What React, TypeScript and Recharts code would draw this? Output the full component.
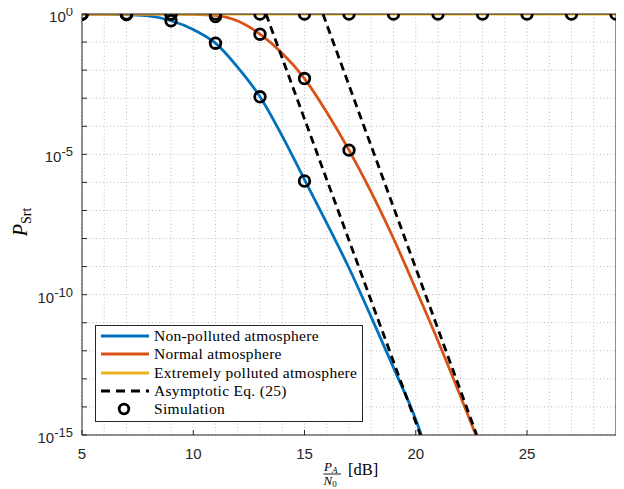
import React from 'react';
import { ComposedChart, Line, XAxis, YAxis, CartesianGrid, Legend, Customized } from 'recharts';

// ---- axis ticks ----
const snrTicks = [5, 6, 7, 8, 9, 10, 11, 12, 13, 14, 15, 16, 17, 18, 19, 20, 21, 22, 23, 24, 25, 26, 27, 28, 29];
const labeledSnr = [5, 10, 15, 20, 25];
const decadeExps = [0, -1, -2, -3, -4, -5, -6, -7, -8, -9, -10, -11, -12, -13, -14, -15];
const labeledExps = [0, -5, -10, -15];

// ---- analytical curves (x in dB, value = log10 P) ----
const nonPollutedX = [5, 6, 7, 8, 9, 10, 11, 12, 13, 14, 15, 16, 17, 18, 19, 20, 20.25];
const nonPollutedLog = [0, 0, -0.02, -0.07, -0.24, -0.55, -1.04, -1.9, -2.95, -4.35, -5.9, -7.45, -9.05, -10.8, -12.6, -14.45, -15];

const normalX = [5, 6, 7, 8, 9, 10, 11, 12, 13, 14, 15, 16, 17, 18, 19, 20, 21, 22, 22.7];
const normalLog = [0, 0, 0, 0, 0, -0.01, -0.05, -0.25, -0.72, -1.4, -2.3, -3.5, -4.85, -6.35, -8.0, -9.8, -11.65, -13.6, -15];

const extremeX = [5, 29];
const extremeLog = [0, 0];

// ---- asymptotic Eq. (25) ----
const asymNonPollutedX = [13.27, 20.21];
const asymNonPollutedLog = [0, -15];
const asymNormalX = [15.83, 22.74];
const asymNormalLog = [0, -15];

// ---- simulation points ----
const simExtremeX = [5, 7, 9, 11, 13, 15, 17, 19, 21, 23, 25, 27, 29];
const simExtremeLog = [0, 0, 0, 0, 0, 0, 0, 0, 0, 0, 0, 0, 0];
const simNonPollutedX = [5, 7, 9, 11, 13, 15];
const simNonPollutedLog = [0, -0.02, -0.24, -1.04, -2.95, -5.95];
const simNormalX = [5, 7, 9, 11, 13, 15, 17];
const simNormalLog = [0, 0, 0, -0.09, -0.72, -2.3, -4.85];

const legendLabels = [
  'Non-polluted atmosphere',
  'Normal atmosphere',
  'Extremely polluted atmosphere',
  'Asymptotic Eq. (25)',
  'Simulation',
];

const BLUE = '#0072BD';
const ORANGE = '#D95319';
const YELLOW = '#EDB120';
const AX = '#262626';
const SANS = '"Liberation Sans", Arial, Helvetica, sans-serif';
const SERIF = '"Liberation Serif", "Times New Roman", serif';

const build = (xs: number[], ls: number[]) => xs.map((x, i) => ({ x, p: Math.pow(10, ls[i]) }));

const nonPolluted = build(nonPollutedX, nonPollutedLog);
const normal = build(normalX, normalLog);
const extreme = build(extremeX, extremeLog);
const asym1 = build(asymNonPollutedX, asymNonPollutedLog);
const asym2 = build(asymNormalX, asymNormalLog);
const simE = build(simExtremeX, simExtremeLog);
const simN = build(simNonPollutedX, simNonPollutedLog);
const simM = build(simNormalX, simNormalLog);

const yTicks = decadeExps.map((e) => Math.pow(10, e));

const LeftTick = (props: any) => {
  const { x, y, payload } = props;
  const e = Math.round(Math.log10(payload.value));
  const lab = labeledExps.includes(e);
  return (
    <g>
      <line x1={x} y1={y} x2={x + 5} y2={y} stroke={AX} strokeWidth={1} />
      {lab && (
        <text x={x - 9} y={y + 8} textAnchor="end" fontFamily={SANS} fontSize={15} fill={AX}>
          10<tspan dy={-6} fontSize={13}>{String(e)}</tspan>
        </text>
      )}
    </g>
  );
};

const RightTick = (props: any) => {
  const { x, y } = props;
  return <line x1={x - 5} y1={y} x2={x} y2={y} stroke={AX} strokeWidth={1} />;
};

const BottomTick = (props: any) => {
  const { x, y, payload } = props;
  const lab = labeledSnr.includes(payload.value);
  if (!lab) return <g />;
  return (
    <g>
      <line x1={x} y1={y} x2={x} y2={y - 5} stroke={AX} strokeWidth={1} />
      <text x={x} y={y + 24} textAnchor="middle" fontFamily={SANS} fontSize={15} fill={AX}>
        {payload.value}
      </text>
    </g>
  );
};

const TopTick = (props: any) => {
  const { x, y, payload } = props;
  if (!labeledSnr.includes(payload.value)) return <g />;
  return <line x1={x} y1={y} x2={x} y2={y + 5} stroke={AX} strokeWidth={1} />;
};

const AxisLabels = () => (
  <g fontFamily={SERIF} fill="#000">
    {/* x label: P_A / N_0 [dB] */}
    <text x={324} y={471} fontSize={13} fontStyle="italic">
      P<tspan dy={2} fontSize={9} fontStyle="italic">A</tspan>
    </text>
    <line x1={323.5} y1={474} x2={341} y2={474} stroke="#000" strokeWidth={0.9} />
    <text x={323.5} y={484.5} fontSize={13} fontStyle="italic">
      N<tspan dy={2} fontSize={9} fontStyle="normal">0</tspan>
    </text>
    <text x={348} y={475} fontSize={16.5}>[dB]</text>
    {/* y label: P_Srt */}
    <text x={27} y={222} transform="rotate(-90, 27, 222)" textAnchor="middle" fontSize={20}>
      <tspan fontStyle="italic">P</tspan>
      <tspan dy={4} fontSize={14}>Srt</tspan>
    </text>
  </g>
);

const LegendBox = () => {
  const rows = [11, 29, 48, 66, 84];
  return (
    <svg width={268} height={97} style={{ display: 'block' }}>
      <rect x={0.5} y={0.5} width={267} height={96} fill="#fff" stroke={AX} strokeWidth={1} />
      <line x1={6} x2={54} y1={rows[0]} y2={rows[0]} stroke={BLUE} strokeWidth={2.8} />
      <line x1={6} x2={54} y1={rows[1]} y2={rows[1]} stroke={ORANGE} strokeWidth={2.8} />
      <line x1={6} x2={54} y1={rows[2]} y2={rows[2]} stroke={YELLOW} strokeWidth={2.8} />
      <line x1={6} x2={54} y1={rows[3]} y2={rows[3]} stroke="#000" strokeWidth={2.8} strokeDasharray="9 6" />
      <circle cx={29} cy={rows[4]} r={4.8} fill="none" stroke="#000" strokeWidth={2.8} />
      {legendLabels.map((t, i) => (
        <text key={t} x={59} y={rows[i] + 5} fontFamily={SERIF} fontSize={15.5} letterSpacing={0.3} fill="#000">
          {t}
        </text>
      ))}
    </svg>
  );
};

const dotStyle = { r: 5.3, fill: 'none', stroke: '#000', strokeWidth: 2.8 };

export default function App() {
  return (
    <div style={{ margin: '-8px 0 0 -8px', width: 624, height: 489 }}>
      <ComposedChart width={624} height={489} margin={{ top: 13, right: 7, bottom: 4, left: 22 }}>
        <CartesianGrid stroke="#bdbdbd" strokeDasharray="1 2.5" strokeWidth={1} />
        <XAxis
          dataKey="x"
          type="number"
          domain={[5, 29]}
          ticks={snrTicks}
          interval={0}
          allowDataOverflow
          height={50}
          tickSize={0}
          tickMargin={0}
          tickLine={false}
          tick={<BottomTick />}
          axisLine={{ stroke: AX, strokeWidth: 1 }}
        />
        <XAxis
          xAxisId="top"
          orientation="top"
          dataKey="x"
          type="number"
          domain={[5, 29]}
          ticks={snrTicks}
          interval={0}
          height={1}
          tickSize={0}
          tickMargin={0}
          tickLine={false}
          tick={<TopTick />}
          axisLine={{ stroke: AX, strokeWidth: 1 }}
        />
        <YAxis
          scale="log"
          type="number"
          domain={[1e-15, 1]}
          ticks={yTicks}
          interval={0}
          allowDataOverflow
          width={60}
          tickSize={0}
          tickMargin={0}
          tickLine={false}
          tick={<LeftTick />}
          axisLine={{ stroke: AX, strokeWidth: 1 }}
        />
        <YAxis
          yAxisId="right"
          orientation="right"
          scale="log"
          type="number"
          domain={[1e-15, 1]}
          ticks={yTicks}
          interval={0}
          width={1}
          tickSize={0}
          tickMargin={0}
          tickLine={false}
          tick={<RightTick />}
          axisLine={{ stroke: AX, strokeWidth: 1 }}
        />
        <Line data={nonPolluted} dataKey="p" type="monotone" stroke={BLUE} strokeWidth={2.8} dot={false} isAnimationActive={false} legendType="none" />
        <Line data={normal} dataKey="p" type="monotone" stroke={ORANGE} strokeWidth={2.8} dot={false} isAnimationActive={false} legendType="none" />
        <Line data={extreme} dataKey="p" type="linear" stroke={YELLOW} strokeWidth={2.8} dot={false} isAnimationActive={false} legendType="none" />
        <Line data={asym1} dataKey="p" type="linear" stroke="#000" strokeWidth={2.8} strokeDasharray="8 5" dot={false} isAnimationActive={false} legendType="none" />
        <Line data={asym2} dataKey="p" type="linear" stroke="#000" strokeWidth={2.8} strokeDasharray="8 5" dot={false} isAnimationActive={false} legendType="none" />
        <Line data={simN} dataKey="p" stroke="none" dot={dotStyle} isAnimationActive={false} legendType="none" />
        <Line data={simM} dataKey="p" stroke="none" dot={dotStyle} isAnimationActive={false} legendType="none" />
        <Line data={simE} dataKey="p" stroke="none" dot={dotStyle} isAnimationActive={false} legendType="none" />
        <Legend
          layout="vertical"
          align="center"
          verticalAlign="middle"
          content={() => <LegendBox />}
          wrapperStyle={{ left: 95, top: 325, width: 268, height: 97 }}
        />
        <Customized component={AxisLabels} />
      </ComposedChart>
    </div>
  );
}
